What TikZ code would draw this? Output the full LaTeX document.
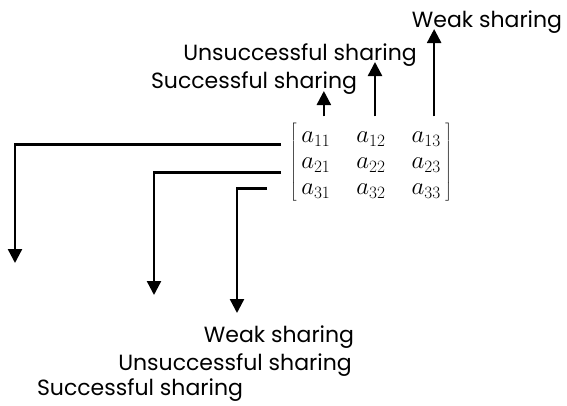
\documentclass[tikz,border=0pt]{standalone}
\usepackage{amsmath}
\usepackage{fontspec}
\setmainfont{Poppins}
\usepackage{tikz}
\usetikzlibrary{matrix}
\usetikzlibrary{arrows.meta}
\usetikzlibrary{positioning}
\tikzset{
  Pfeil/.style={line width=2.4pt,->}, % fuer Pfeile
  Label/.style={font=\fontsize{22}{26}\selectfont, inner sep=0pt, anchor=base} % fuer Beschriftungen
}

\begin{document}
\begin{tikzpicture}[x=1pt,y=-1pt,
>={Triangle[length=14pt,width=14pt]} % Voreinstellung fuer Pfeilspitzen
]
\useasboundingbox (0,0) rectangle (567,405);

%Matrix
\matrix (A) at (371,162) [
  matrix of math nodes,
  left delimiter={[}, right delimiter={]},
  every left delimiter/.style={xshift=1pt},
  every right delimiter/.style={xshift=-1pt},
  column sep=26pt, row sep=3pt,
  nodes={inner sep=0pt, text height=18pt, text depth=5pt, font=\fontsize{27}{30}\selectfont}
  ]
{
  a_{11} & a_{12} & a_{13} \\
  a_{21} & a_{22} & a_{23} \\
  a_{31} & a_{32} & a_{33} \\
};

%Beschriftungen
\node[Label] (WeakTop) at (487,27) {Weak sharing};
\node[Label] (UnsTop) at (300,60) {Unsuccessful sharing};
\node[Label] (SucTop) at (254,88) {Successful sharing};

\node[Label] (WeakBot) at (279,342) {Weak sharing};
\node[Label] (UnsBot) at (235,370) {Unsuccessful sharing};
\node[Label] (SucBot) at (140,395) {Successful sharing};

%Pfeilenden
\coordinate (d1) at (15,263);
\coordinate (d2) at (154,295);
\coordinate (d3) at (237,313);

%Pfeile nach oben
\draw[Pfeil] ([xshift=8pt,yshift=8pt]A-1-1.north) -- ([xshift=8pt,yshift=-3pt]A-1-1.north |- SucTop.base);
\draw[Pfeil] ([xshift=4pt,yshift=8pt]A-1-2.north) -- ([xshift=4pt,yshift=-2pt]A-1-2.north |- UnsTop.base);
\draw[Pfeil] ([xshift=8pt,yshift=8pt]A-1-3.north) -- ([xshift=8pt,yshift=-2pt]A-1-3.north |- WeakTop.base);

%Pfeile nach unten
\draw[Pfeil] ([xshift=-20pt,yshift=-2pt]A-1-1.base west) -| (d1);
\draw[Pfeil] ([xshift=-20pt,yshift=-4pt]A-2-1.base west) -| (d2);
\draw[Pfeil] ([xshift=-34pt,yshift=6pt]A-3-1.base west) -| (d3);

\end{tikzpicture}
\end{document}
